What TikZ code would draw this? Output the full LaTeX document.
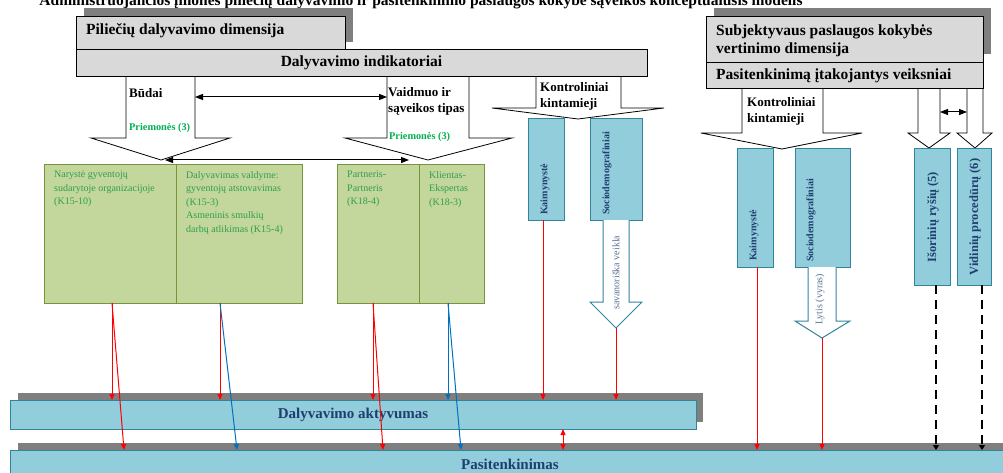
\documentclass[tikz,border=0pt]{standalone}
\usepackage{fontspec}
\setmainfont{Liberation Serif}
\usetikzlibrary{arrows.meta}

\definecolor{panelgray}{HTML}{D9D9D9}
\definecolor{shadowgray}{HTML}{7F7F7F}
\definecolor{olivefill}{HTML}{C3D69B}
\definecolor{oliveline}{HTML}{77933C}
\definecolor{olivetext}{HTML}{2E9F4F}
\definecolor{meansgreen}{HTML}{00B050}
\definecolor{tealfill}{HTML}{92CDDC}
\definecolor{tealline}{HTML}{31849B}
\definecolor{navytext}{HTML}{1F3F6E}
\definecolor{slatetext}{HTML}{5A7394}
\definecolor{linkred}{HTML}{FF0000}
\definecolor{linkblue}{HTML}{0070C0}

\tikzset{
  cornerbox/.style={anchor=north west, inner sep=0pt, outer sep=0pt},
  shadowbox/.style={cornerbox, fill=shadowgray},
  panel/.style={cornerbox, draw=black, line width=0.8pt, fill=panelgray},
  olivebox/.style={cornerbox, draw=oliveline, line width=1pt, fill=olivefill},
  tealbox/.style={cornerbox, draw=tealline, line width=1pt, fill=tealfill},
  blockarrow/.style={draw=black, line width=0.8pt, fill=white},
  tealarrow/.style={draw=tealline, line width=1pt, fill=white},
  headfont/.style={font=\fontsize{15.5}{18}\selectfont\bfseries},
  headtext/.style={headfont, anchor=west, inner sep=0pt, align=left},
  labeltext/.style={font=\fontsize{13}{16.5}\selectfont\bfseries, anchor=west, inner sep=0pt, align=left},
  meanstext/.style={font=\fontsize{10.3}{12}\selectfont\bfseries, text=meansgreen, anchor=west, inner sep=0pt},
  olivetxt/.style={font=\fontsize{10}{13.5}\selectfont, text=olivetext, anchor=north west, inner sep=0pt, align=left},
  vtext/.style={rotate=90, font=\fontsize{10}{12}\selectfont\bfseries, text=navytext, inner sep=0pt, anchor=west},
  vbigtext/.style={rotate=90, font=\fontsize{12.5}{14}\selectfont\bfseries, text=navytext, inner sep=0pt},
  vslate/.style={rotate=90, font=\fontsize{10}{12}\selectfont, text=slatetext, inner sep=0pt, anchor=west},
  barfont/.style={font=\fontsize{15}{18}\selectfont\bfseries, text=navytext},
  redlink/.style={draw=linkred, line width=1pt, -{Triangle[length=6pt,width=5pt]}},
  bluelink/.style={draw=linkblue, line width=1pt, -{Triangle[length=6pt,width=5pt]}},
  redpair/.style={draw=linkred, line width=1pt, {Triangle[length=6pt,width=5pt]}-{Triangle[length=6pt,width=5pt]}},
  pairlink/.style={draw=black, line width=1pt, {Triangle[length=8pt,width=6pt]}-{Triangle[length=8pt,width=6pt]}},
  dashlink/.style={draw=black, line width=2pt, dash pattern=on 9pt off 6pt, -{Triangle[length=5pt,width=6pt]}}
}

\begin{document}
\begin{tikzpicture}[x=1pt, y=-1pt]
\clip (0,0) rectangle (1003,473);

% title line
\node[font=\fontsize{15.5}{17}\selectfont\bfseries, anchor=base, inner sep=0pt] (title) at (421,6)
  {Administruojančios įmonės piliečių dalyvavimo ir pasitenkinimo paslaugos kokybe sąveikos konceptualusis modelis};

% block arrows under the left header
\draw[blockarrow] (126,76) -- (126,138) -- (91,138) -- (161,160) -- (230,138) -- (195,138) -- (195,76);
\draw[blockarrow] (387,76) -- (387,138) -- (345,138) -- (428,160) -- (512,138) -- (469,138) -- (469,76);
\draw[blockarrow] (536,76) -- (536,108) -- (492,108) -- (578,119) -- (664,108) -- (621,108) -- (621,76);

% block arrows under the right header
\draw[blockarrow] (742,88) -- (742,133) -- (701,133) -- (782,149) -- (862,133) -- (823,133) -- (823,88);
\draw[blockarrow] (918,88) -- (918,133) -- (908,133) -- (929,148) -- (950,133) -- (940,133) -- (940,88);
\draw[blockarrow] (967,88) -- (967,133) -- (957,133) -- (975,148) -- (992,133) -- (983,133) -- (983,88);

% left header
\node[shadowbox, minimum width=269pt, minimum height=34pt] (pilsh) at (84,8) {};
\node[panel, minimum width=269pt, minimum height=33pt] (pil) at (76,16) {};
\node[headtext] (piltxt) at (86,31) {Piliečių dalyvavimo dimensija};
\node[panel, headfont, minimum width=571pt, minimum height=27pt] (ind) at (76,49) {Dalyvavimo indikatoriai};

% right header
\node[shadowbox, minimum width=277pt, minimum height=46pt] (subsh) at (714,8) {};
\node[panel, minimum width=277pt, minimum height=46pt] (sub) at (706,16) {};
\node[headtext] (subtxt) at (716,41) {Subjektyvaus paslaugos kokybės\\vertinimo dimensija};
\node[panel, minimum width=277pt, minimum height=26pt] (fac) at (706,62) {};
\node[headtext] (factxt) at (716,76) {Pasitenkinimą įtakojantys veiksniai};

% arrow labels
\node[labeltext] (budai) at (129,93) {Būdai};
\node[meanstext] (prm1) at (129,128) {Priemonės (3)};
\node[labeltext] (role) at (388,101.5) {Vaidmuo ir\\sąveikos tipas};
\node[meanstext] (prm2) at (389,137) {Priemonės (3)};
\node[labeltext, font=\fontsize{13}{16}\selectfont\bfseries] (ctrl1) at (540,96) {Kontroliniai\\kintamieji};
\node[labeltext, font=\fontsize{13}{16}\selectfont\bfseries] (ctrl2) at (747,111) {Kontroliniai\\kintamieji};

% two-way relations between the indicator groups
\coordinate (mA) at (195,97);
\coordinate (mB) at (387,97);
\draw[pairlink] (mA) -- (mB);
\coordinate (mC) at (165,160);
\coordinate (mD) at (409,160);
\draw[pairlink] (mC) -- (mD);
\coordinate (mE) at (940,112);
\coordinate (mF) at (967,112);
\draw[pairlink] (mE) -- (mF);

% participation forms
\node[olivebox, minimum width=132pt, minimum height=138pt] (g1) at (44,165) {};
\node[olivebox, minimum width=126pt, minimum height=138pt] (g2) at (176,165) {};
\node[olivebox, minimum width=82pt, minimum height=138pt] (g3) at (337,165) {};
\node[olivebox, minimum width=65pt, minimum height=138pt] (g4) at (419,165) {};
\node[olivetxt] at (54,171) {Narystė gyventojų\\sudarytoje organizacijoje\\(K15-10)};
\node[olivetxt] at (186,171) {Dalyvavimas valdyme:\\gyventojų atstovavimas\\(K15-3)\\Asmeninis smulkių\\darbų atlikimas (K15-4)};
\node[olivetxt] at (347,171) {Partneris-\\Partneris\\(K18-4)};
\node[olivetxt] at (429,171) {Klientas-\\Ekspertas\\(K18-3)};

% control variables, participation side
\node[tealbox, minimum width=36pt, minimum height=101pt] (b1) at (528,119) {};
\node[tealbox, minimum width=52pt, minimum height=101pt] (b2) at (590,119) {};
\node[vtext] at (545,215) {Kaimynystė};
\node[vtext] at (607,215) {Sociodemografiniai};
\draw[tealarrow] (603,220) -- (603,302) -- (590,302) -- (616,328) coordinate (sv) -- (642,302) -- (629,302) -- (629,220);
\node[vslate] at (616,310) {savanoriška veikla};

% control variables, satisfaction side
\node[tealbox, minimum width=36pt, minimum height=118pt] (b3) at (737,149) {};
\node[tealbox, minimum width=55pt, minimum height=118pt] (b4) at (795,149) {};
\node[vtext] at (754,261) {Kaimynystė};
\node[vtext] at (811,262) {Sociodemografiniai};
\draw[tealarrow] (808,267) -- (808,321) -- (795,321) -- (822,338) coordinate (ly) -- (850,321) -- (836,321) -- (836,267);
\node[vslate] at (820,325) {Lytis (vyras)};

% service factors
\node[tealbox, minimum width=36pt, minimum height=136pt] (b5) at (914,149) {};
\node[tealbox, minimum width=34pt, minimum height=136pt] (b6) at (957,149) {};
\node[vbigtext] at (933,217) {Išorinių ryšių (5)};
\node[vbigtext] at (975,217) {Vidinių procedūrų (6)};

% outcome bars
\node[shadowbox, minimum width=685pt, minimum height=29pt] (aktsh) at (18,393) {};
\node[tealbox, barfont, minimum width=686pt, minimum height=29pt] (akt) at (10,400) {Dalyvavimo aktyvumas};
\node[shadowbox, minimum width=1000pt, minimum height=40pt] (passh) at (18,443) {};
\node[tealbox, barfont, minimum width=1000pt, minimum height=28pt] (pas) at (10,450) {Pasitenkinimas};

% influences
\draw[redlink]  (g1.south -| 112,0) -- (akt.north -| 112,0);
\draw[redlink]  (g1.south -| 112,0) -- (pas.north -| 124,0);
\draw[redlink]  (g2.south -| 220,0) -- (akt.north -| 220,0);
\draw[bluelink] (g2.south -| 220,0) -- (pas.north -| 237,0);
\draw[redlink]  (g3.south -| 373,0) -- (akt.north -| 373,0);
\draw[redlink]  (g3.south -| 373,0) -- (pas.north -| 383,0);
\draw[bluelink] (g4.south -| 448,0) -- (akt.north -| 448,0);
\draw[bluelink] (g4.south -| 448,0) -- (pas.north -| 461,0);
\draw[redlink]  (b1.south -| 543,0) -- (akt.north -| 543,0);
\draw[redlink]  (sv) -- (akt.north -| sv);
\draw[redpair]  (akt.south -| 563,0) -- (pas.north -| 563,0);
\draw[redlink]  (b3.south -| 757,0) -- (pas.north -| 757,0);
\draw[redlink]  (ly) -- (pas.north -| ly);
\draw[dashlink] (b5.south -| 936,0) -- (pas.north -| 936,0);
\draw[dashlink] (b6.south -| 982,0) -- (pas.north -| 982,0);
\end{tikzpicture}
\end{document}
